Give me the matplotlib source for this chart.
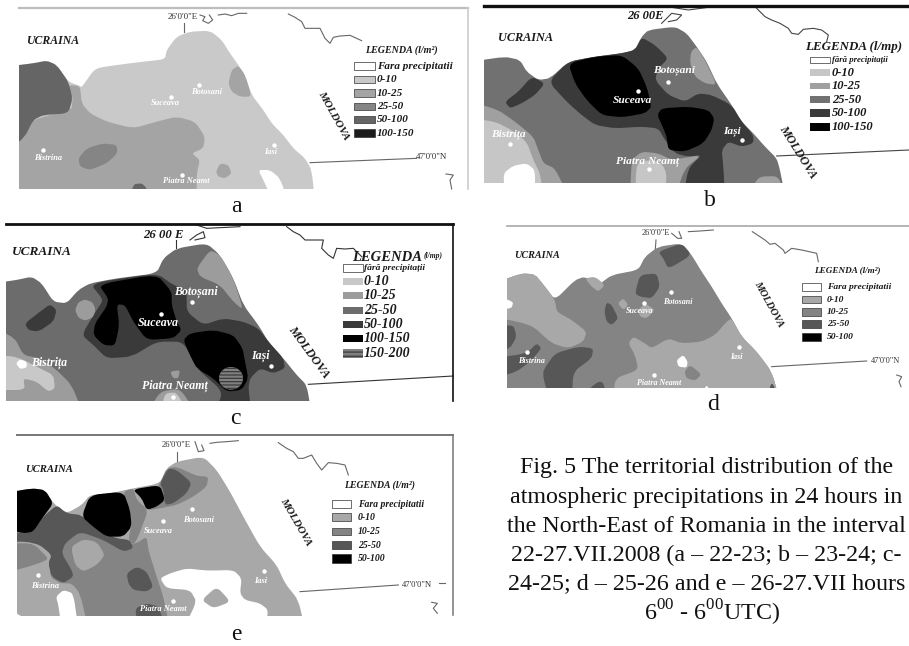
import matplotlib
matplotlib.use("Agg")
import matplotlib.pyplot as plt
from matplotlib.patches import Ellipse, PathPatch, Rectangle
from matplotlib.path import Path

plt.rcParams['font.family'] = ['Liberation Serif', 'DejaVu Serif']
plt.rcParams['mathtext.fontset'] = 'custom'
plt.rcParams['mathtext.rm'] = 'Liberation Serif'
plt.rcParams['hatch.linewidth'] = 0.9

#--------config begin--------
WHITE = "#ffffff"
a_colors = {"none": WHITE, "0-10": "#c9c9c9", "10-25": "#a4a4a4", "25-50": "#858585", "50-100": "#656565", "100-150": "#1c1c1c"}
b_colors = {"none": WHITE, "0-10": "#c6c6c6", "10-25": "#a0a0a0", "25-50": "#717171", "50-100": "#3a3a3a", "100-150": "#000000"}
c_colors = {"none": WHITE, "0-10": "#c8c8c8", "10-25": "#9c9c9c", "25-50": "#6c6c6c", "50-100": "#3a3a3a", "100-150": "#000000", "150-200": "#808080"}
d_colors = {"none": WHITE, "0-10": "#a8a8a8", "10-25": "#848484", "25-50": "#575757", "50-100": "#000000"}
#--------config end--------

legend_a = ["Fara precipitatii", "0-10", "10-25", "25-50", "50-100", "100-150"]
legend_b = ["fără precipitații", "0-10", "10-25", "25-50", "50-100", "100-150"]
legend_c = ["fără precipitații", "0-10", "10-25", "25-50", "50-100", "100-150", "150-200"]
legend_d = ["Fara precipitatii", "0-10", "10-25", "25-50", "50-100"]
legend_keys_a = ["none", "0-10", "10-25", "25-50", "50-100", "100-150"]
legend_keys_c = legend_keys_a + ["150-200"]
legend_keys_d = ["none", "0-10", "10-25", "25-50", "50-100"]

caption_lines = [
    "Fig. 5 The territorial distribution of the",
    "atmospheric precipitations in 24 hours in",
    "the North-East of Romania in the interval",
    "22-27.VII.2008 (a – 22-23; b – 23-24; c-",
    "24-25; d – 25-26 and e – 26-27.VII hours",
]
caption_last = "6$^{00}$ - 6$^{00}$UTC)"

# outlines are read off the picture, in 3x pixels of each panel crop
# panel a
a_shape = [(57,200),(100,190),(140,182),(170,195),(205,245),(240,258),(245,262),(285,205),(350,195),(430,185),(495,178),(500,150),(530,110),(570,95),(630,92),(665,120),(690,160),(715,195),(735,225),(755,285),(790,330),(815,370),(850,405),(880,445),(915,475),(935,510),(945,567),(57,567)]
a_band = [(240,258),(245,310),(270,340),(320,365),(400,385),(470,365),(530,350),(585,365),(615,410),(610,445),(575,460),(600,480),(590,520),(590,567),(57,567),(57,460),(80,400),(100,360),(150,345),(215,330),(218,290),(205,255)]
a_hole = [(775,510),(810,510),(840,535),(865,567),(820,567),(790,540)]
a_west = [(57,200),(100,190),(140,182),(170,195),(205,245),(218,295),(205,340),(130,345),(100,360),(75,410),(57,460)]
a_blob1 = [(235,475),(260,445),(310,430),(350,435),(352,460),(320,490),(270,510),(240,500)]
a_blob2 = [(685,250),(695,210),(715,197),(735,225),(755,290),(720,290),(695,275)]
a_blob3 = [(648,515),(660,490),(685,495),(695,520),(675,535),(655,530)]
a_blob4 = [(388,567),(400,552),(430,550),(465,567)]
a_regions = [("0-10", a_shape), ("10-25", a_band), ("none", a_hole), ("50-100", a_west), ("25-50", a_blob1),
             ("10-25", a_blob2), ("10-25", a_blob3), ("50-100", a_blob4)]

# panel b
b_shape = [(87,185),(150,170),(195,180),(215,215),(250,240),(285,235),(340,185),(420,170),(500,160),(540,150),(560,110),(580,90),(660,80),(695,100),(725,140),(755,185),(785,250),(830,315),(860,365),(895,400),(930,440),(965,475),(975,510),(990,548),(87,548)]
b_west1 = [(87,305),(130,330),(180,365),(235,410),(250,450),(265,490),(300,505),(340,548),(87,548)]
b_west2 = [(87,355),(120,365),(170,390),(215,425),(235,480),(255,520),(265,548),(87,548)]
b_hole = [(145,520),(175,497),(215,490),(240,510),(240,548),(150,548)]
b_core = [(280,245),(340,185),(420,170),(500,160),(540,150),(560,112),(600,135),(640,175),(610,205),(600,240),(640,285),(690,305),(730,280),(770,285),(830,315),(860,365),(895,405),(895,430),(860,440),(820,425),(800,450),(805,500),(810,548),(685,548),(700,505),(740,465),(700,470),(660,460),(630,420),(610,385),(560,380),(480,385),(420,375),(380,345),(340,310)]
b_black1 = [(340,190),(420,170),(500,165),(550,205),(575,260),(590,320),(570,340),(500,352),(440,345),(395,300),(360,250)]
b_black2 = [(607,345),(620,325),(700,320),(760,330),(778,355),(770,390),(745,430),(690,455),(640,450),(635,410),(625,385)]
b_arm = [(150,305),(190,275),(230,230),(270,250),(240,285),(200,310),(165,325)]
b_east = [(708,155),(725,140),(755,190),(785,255),(750,250),(720,230),(705,190)]
b_piatra1 = [(525,548),(530,480),(560,455),(610,460),(650,480),(740,465),(690,505),(660,548)]
b_piatra2 = [(540,548),(545,490),(580,480),(620,490),(635,520),(630,548)]
b_south = [(880,548),(910,530),(970,528),(990,548)]
b_regions = [("25-50", b_shape), ("10-25", b_west1), ("0-10", b_west2), ("none", b_hole), ("50-100", b_core),
             ("100-150", b_black1), ("100-150", b_black2), ("50-100", b_arm), ("10-25", b_east),
             ("10-25", b_piatra1), ("0-10", b_piatra2), ("10-25", b_south)]

# panel c
c_shape = [(18,205),(50,195),(95,185),(125,205),(160,260),(200,265),(235,225),(270,205),(350,190),(470,175),(490,130),(530,100),(620,85),(660,120),(700,190),(730,270),(775,330),(805,380),(850,430),(890,480),(920,510),(935,557),(18,557)]
c_core = [(245,360),(290,285),(310,255),(270,205),(470,175),(520,210),(560,225),(560,290),(610,330),(670,310),(730,320),(775,340),(805,380),(850,430),(855,460),(820,475),(780,460),(750,490),(745,520),(755,557),(640,557),(670,530),(590,460),(550,380),(470,380),(395,425),(320,430),(280,390)]
c_black1 = [(295,208),(470,178),(515,230),(515,270),(530,320),(545,345),(520,370),(440,375),(400,320),(375,270),(350,268),(358,330),(345,392),(310,390),(280,360),(285,325),(320,275),(325,250)]
c_black2 = [(550,375),(570,355),(640,345),(700,360),(728,400),(735,440),(745,490),(725,525),(680,530),(640,490),(590,460),(570,420)]
c_east = [(590,160),(630,105),(660,120),(700,190),(730,285),(700,260),(660,210),(600,185)]
c_circle = [(225,285),(235,262),(255,253),(278,262),(287,285),(278,308),(255,317),(235,308)]
c_arm = [(75,325),(120,290),(150,268),(170,285),(160,320),(115,350),(85,345)]
c_west1 = [(18,335),(45,370),(70,420),(120,430),(170,465),(215,510),(250,557),(18,557)]
c_west2 = [(18,420),(50,425),(120,460),(160,480),(165,520),(145,530),(110,500),(70,490),(75,525),(18,525)]
c_hole = [(48,445),(60,433),(80,440),(80,458),(60,462)]
c_piatra1 = [(440,557),(480,530),(540,520),(590,557)]
c_piatra2 = [(480,557),(495,535),(530,532),(565,557)]
c_spot = [(510,470),(540,465),(535,490),(520,490)]
c_regions = [("25-50", c_shape), ("50-100", c_core), ("100-150", c_black1), ("100-150", c_black2), ("10-25", c_east),
             ("10-25", c_circle), ("50-100", c_arm), ("10-25", c_west1), ("0-10", c_west2), ("none", c_hole),
             ("10-25", c_piatra1), ("0-10", c_piatra2), ("10-25", c_spot)]

# panel d
d_shape = [(156,205),(200,175),(240,178),(270,215),(300,255),(360,195),(390,185),(430,210),(470,180),(550,165),(570,125),(610,95),(680,85),(710,120),(740,170),(770,215),(800,265),(830,310),(860,365),(905,410),(950,470),(975,518),(156,518)]
d_west = [(156,205),(200,175),(240,178),(270,215),(300,255),(305,290),(350,315),(395,350),(385,380),(340,400),(290,385),(230,330),(156,305)]
d_hole1 = [(156,240),(175,260),(170,280),(156,285)]
d_sliver = [(390,190),(420,185),(450,210),(430,230),(410,215)]
d_south = [(520,385),(535,365),(570,385),(590,400),(640,370),(680,385),(740,380),(780,360),(815,320),(830,310),(860,365),(905,410),(950,470),(975,518),(475,518),(480,490),(550,465),(540,420)]
d_hole2 = [(665,435),(685,420),(698,440),(695,458),(670,455)]
d_hole3 = [(735,518),(755,505),(775,518)]
d_dark1 = [(610,110),(680,85),(710,120),(640,162),(625,130)]
d_dark2 = [(540,235),(555,180),(605,175),(615,215),(590,250),(555,245)]
d_dark3 = [(448,290),(455,262),(470,270),(490,310),(470,330),(455,320)]
d_dark4 = [(156,335),(175,330),(185,365),(165,400),(156,415)]
d_dark5 = [(156,430),(215,415),(245,385),(260,400),(225,440),(185,470),(156,490)]
d_dark6 = [(265,465),(300,415),(370,395),(415,400),(410,430),(355,470),(350,518),(285,518),(265,490)]
d_dark7 = [(360,518),(440,490),(462,518)]
d_dark8 = [(935,518),(950,497),(975,518)]
d_lite1 = [(488,265),(505,250),(520,270),(505,285)]
d_lite2 = [(550,285),(570,265),(600,285),(575,310),(555,305)]
d_mid = [(688,470),(705,450),(740,478),(720,497),(695,490)]
d_regions = [("10-25", d_shape), ("0-10", d_west), ("none", d_hole1), ("0-10", d_sliver), ("0-10", d_south),
             ("none", d_hole2), ("none", d_hole3), ("25-50", d_dark1), ("25-50", d_dark2), ("25-50", d_dark3),
             ("25-50", d_dark4), ("25-50", d_dark5), ("25-50", d_dark6), ("25-50", d_dark7), ("25-50", d_dark8),
             ("0-10", d_lite1), ("0-10", d_lite2), ("10-25", d_mid)]

# panel e
e_shape = [(51,190),(95,175),(135,180),(160,220),(200,250),(245,225),(270,195),(330,190),(400,175),(480,160),(500,115),(530,95),(610,80),(650,120),(690,185),(730,260),(780,350),(830,405),(855,460),(895,510),(915,557),(51,557)]
e_mid = [(150,380),(200,330),(240,300),(360,350),(410,340),(440,320),(445,360),(470,440),(490,500),(510,557),(265,557),(240,490),(215,460),(180,460),(150,440)]
e_west = [(51,340),(100,340),(145,385),(130,395),(85,410),(51,430)]
e_band = [(51,310),(100,305),(130,260),(170,225),(200,250),(245,255),(290,300),(350,325),(390,330),(400,355),(370,365),(310,330),(240,305),(195,340),(185,370),(215,420),(220,440),(190,460),(155,440),(145,400),(155,375),(120,345),(80,335),(51,335)]
e_top1 = [(370,185),(400,175),(410,210),(445,240),(415,320),(400,345),(385,330),(395,280),(380,240)]
e_top2 = [(480,160),(500,115),(530,110),(590,138),(625,140),(620,170),(580,200),(530,225),(480,235),(450,240),(440,235)]
e_top3 = [(480,160),(505,115),(530,120),(575,158),(560,190),(520,220),(495,225),(490,180)]
e_black1 = [(51,190),(95,175),(135,180),(160,220),(130,260),(100,305),(70,310),(51,295)]
e_black2 = [(245,260),(270,195),(370,185),(390,240),(395,290),(370,320),(320,320),(285,295)]
e_black3 = [(398,178),(480,165),(495,210),(470,230),(440,240),(425,205)]
e_lite = [(213,350),(250,328),(290,335),(315,375),(290,405),(250,425),(225,405)]
e_dark1 = [(380,430),(410,410),(440,425),(460,470),(440,485),(400,480),(385,460)]
e_dark2 = [(405,535),(440,520),(475,530),(500,557),(415,557)]
e_hole1 = [(480,445),(510,430),(560,415),(620,422),(700,420),(725,445),(720,490),(735,510),(780,520),(805,540),(795,557),(550,557),(590,515),(570,480),(500,475)]
e_island = [(605,510),(650,470),(692,515),(640,535)]
e_hole2 = [(168,500),(190,480),(220,490),(235,557),(185,557),(175,525)]
e_regions = [("0-10", e_shape), ("10-25", e_mid), ("10-25", e_west), ("25-50", e_band), ("10-25", e_top1),
             ("10-25", e_top2), ("25-50", e_top3), ("50-100", e_black1), ("50-100", e_black2), ("50-100", e_black3),
             ("0-10", e_lite), ("25-50", e_dark1), ("25-50", e_dark2), ("none", e_hole1), ("0-10", e_island),
             ("none", e_hole2)]

# rivers and grid lines
a_lines = [[(600,45),(615,50),(608,62),(625,70),(638,60),(628,45)], [(655,45),(675,42),(695,47),(715,40),(740,40)], [(865,42),(885,52),(905,65),(915,85),(935,85),(960,85),(975,115),(990,130),(1000,112),(1020,108),(1050,106),(1085,122)], [(552,70),(552,97)], [(930,488),(1250,475)], [(1338,522),(1360,525),(1350,540),(1355,567)]]
b_lines = [[(620,70),(650,40),(680,45),(665,60),(640,65)], [(650,22),(700,30),(760,22)], [(905,25),(930,50),(950,60),(975,70),(1000,85),(1010,100),(1030,103),(1045,88),(1075,85),(1100,90),(1120,105),(1115,125)], [(965,468),(1362,450)]]
c_lines = [[(570,75),(590,60),(610,50),(615,68),(585,75)], [(590,30),(620,40),(720,35)], [(860,35),(880,50),(900,60),(915,75),(945,75),(970,75),(965,100),(985,120),(1000,130),(1010,100),(1035,102),(1060,100),(1085,125)], [(527,75),(527,100)], [(925,508),(1360,483)]]
d_lines = [[(650,55),(668,70),(680,70),(672,50)], [(700,50),(735,48),(775,45)], [(892,50),(930,75),(945,88),(960,85),(985,105),(990,115),(1010,100),(1040,105),(1085,115),(1090,140)], [(603,75),(600,115)], [(950,455),(1235,438)], [(1325,480),(1340,485),(1332,500),(1338,515)]]
e_lines = [[(585,35),(595,65),(612,62),(605,45)], [(630,40),(650,37),(680,35),(715,32)], [(835,38),(860,55),(880,65),(895,85),(910,85),(935,75),(950,100),(965,120),(985,98),(1010,100),(1035,105),(1045,135)], [(530,65),(530,95)], [(900,485),(1195,465)], [(1318,460),(1335,460)], [(1295,517),(1312,520),(1300,535),(1312,550)]]

# place names: text, label x, label y, dot x, dot y
a_places = [("Botosani",620,275,598,255), ("Suceava",495,308,512,290), ("Iasi",813,455,823,435), ("Bistrina",143,473,128,450), ("Piatra Neamt",558,543,545,525)]
b_places = [("Botoșani",656,210,640,245), ("Suceava",531,302,548,273), ("Iași",830,393,860,420), ("Bistrița",160,402,165,432), ("Piatra Neamț",578,483,582,507)]
c_places = [("Botoșani",587,230,577,262), ("Suceava",474,323,484,298), ("Iași",782,423,813,452), ("Bistrița",148,445,62,445), ("Piatra Neamț",525,513,520,547)]
d_places = [("Botosani",669,260,648,232), ("Suceava",555,288,568,265), ("Iasi",844,425,853,397), ("Bistrina",230,438,216,410), ("Piatra Neamt",612,505,598,480)]
e_places = [("Botosani",597,270,575,238), ("Suceava",476,303,490,273), ("Iasi",783,452,792,422), ("Bistrina",136,468,115,435), ("Piatra Neamt",489,537,520,512)]


def rounded(points, xmin, ymax, frac=0.3):
  # push border points past the clip box so the cut edge stays straight
  pts = [(x - 40 if x <= xmin else x, y + 40 if y >= ymax else y) for x, y in points]
  verts = []
  codes = []
  n = len(pts)
  for i in range(n):
    px, py = pts[i - 1]
    cx, cy = pts[i]
    nx, ny = pts[(i + 1) % n]
    verts += [(cx + (px - cx) * frac, cy + (py - cy) * frac), (cx, cy), (cx + (nx - cx) * frac, cy + (ny - cy) * frac)]
    codes += [Path.MOVETO if i == 0 else Path.LINETO, Path.CURVE3, Path.CURVE3]
  verts.append(verts[0])
  codes.append(Path.LINETO)
  return Path(verts, codes)


def bold_it(ax, x, y, s, size, color="#1a1a1a", **kw):
  ax.text(x, y, s, fontsize=size, color=color, style="italic", weight="bold", ha="center", va="center", **kw)


def make_panel(crop, box, colors, regions, lines, places, line_color, place_size):
  x, y, w, h = crop
  ax = fig.add_axes([x / 909, 1 - (y + h) / 646, w / 909, h / 646])
  ax.set_xlim(0, w * 3)
  ax.set_ylim(h * 3, 0)
  ax.axis("off")
  ax.patch.set_alpha(0)
  clip = Rectangle((box[0], 0), 2000, box[1], transform=ax.transData)
  for key, pts in regions:
    patch = PathPatch(rounded(pts, box[0], box[1]), facecolor=colors[key], edgecolor="none", zorder=2)
    ax.add_patch(patch)
    patch.set_clip_path(clip)
  for line in lines:
    ax.plot([p[0] for p in line], [p[1] for p in line], color=line_color, lw=0.8, zorder=1, clip_on=False, solid_joinstyle="round")
  for name, lx, ly, dx, dy in places:
    ax.plot(dx, dy, "o", color="white", ms=3.2, mew=0, zorder=3)
    bold_it(ax, lx, ly, name, place_size, color="white", zorder=4)
  return ax


def make_legend(ax, labels, keys, colors, ys, x0, x1, xt, size, edge="#333333"):
  for label, key, (top, bottom) in zip(labels, keys, ys):
    ax.add_patch(Rectangle((x0, top), x1 - x0, bottom - top, facecolor=colors[key], edgecolor=edge, lw=0.5, zorder=3))
    ax.text(xt, (top + bottom) / 2, label, fontsize=size, color="#1a1a1a", style="italic", weight="bold", ha="left", va="center", zorder=4)


fig = plt.figure(figsize=(9.09, 6.46), dpi=100)

# a
ax = make_panel((0, 0, 475, 215), (57, 567), a_colors, a_regions, a_lines, a_places, "#666666", 6)
ax.plot([57, 1405], [24, 24], color="#bdbdbd", lw=1.6, clip_on=False)
ax.plot([1405, 1405], [24, 567], color="#cccccc", lw=1.2, clip_on=False)
bold_it(ax, 157, 122, "UCRAINA", 8.5)
ax.text(547, 52, "26'0'0\"E", fontsize=6.5, color="#333333", ha="center", va="center")
ax.text(1295, 470, "47'0'0\"N", fontsize=6.5, color="#333333", ha="center", va="center")
bold_it(ax, 1000, 348, "MOLDOVA", 8, rotation=-61, rotation_mode="anchor")
bold_it(ax, 1205, 150, "LEGENDA (l/m²)", 7.2)
make_legend(ax, legend_a, legend_keys_a, a_colors, [(187,210),(227,250),(268,290),(308,330),(348,370),(388,410)], 1062, 1125, 1130, 8)

# b
ax = make_panel((455, 0, 454, 215), (87, 548), b_colors, b_regions, b_lines, b_places, "#444444", 8.2)
ax.plot([87, 1362], [18, 18], color="#111111", lw=2.4, clip_on=False)
bold_it(ax, 211, 115, "UCRAINA", 8.8)
bold_it(ax, 570, 48, "26 00E", 9)
bold_it(ax, 1028, 455, "MOLDOVA", 8.8, rotation=-58, rotation_mode="anchor")
bold_it(ax, 1195, 140, "LEGENDA (l/mp)", 9.4)
make_legend(ax, legend_b[:1], legend_keys_a[:1], b_colors, [(170,190)], 1065, 1125, 1130, 6.3)
make_legend(ax, legend_b[1:], legend_keys_a[1:], b_colors, [(207,228),(248,268),(288,310),(328,350),(370,392)], 1065, 1125, 1130, 9, edge="none")

# c
ax = make_panel((0, 215, 455, 215), (18, 557), c_colors, c_regions, c_lines, c_places, "#333333", 8.6)
ax.add_patch(Ellipse((693, 490), 72, 68, facecolor=c_colors["150-200"], edgecolor="#3a3a3a", hatch="-----", linewidth=0, zorder=3))
ax.plot([18, 1360], [28, 28], color="#111111", lw=2, clip_on=False)
ax.plot([1360, 1360], [28, 557], color="#111111", lw=1.2, clip_on=False)
bold_it(ax, 127, 110, "UCRAINA", 9.5)
bold_it(ax, 491, 60, "26 00 E", 9.2)
bold_it(ax, 925, 412, "MOLDOVA", 9, rotation=-54, rotation_mode="anchor")
bold_it(ax, 1162, 128, "LEGENDA", 10.5)
bold_it(ax, 1298, 124, "(l/mp)", 5.5)
make_legend(ax, legend_c[:1], legend_keys_c[:1], c_colors, [(147,172)], 1028, 1088, 1092, 6.8)
make_legend(ax, legend_c[1:-1], legend_keys_c[1:-1], c_colors, [(190,210),(232,252),(275,297),(318,338),(360,380)], 1028, 1088, 1092, 10, edge="none")
ax.add_patch(Rectangle((1028, 403), 60, 25, facecolor=c_colors["150-200"], edgecolor="#3a3a3a", hatch="----", linewidth=0, zorder=3))
ax.text(1092, 415, legend_c[-1], fontsize=10, color="#1a1a1a", style="italic", weight="bold", ha="left", va="center", zorder=4)

# d
ax = make_panel((455, 215, 454, 215), (156, 518), d_colors, d_regions, d_lines, d_places, "#666666", 5.8)
ax.plot([156, 1362], [32, 32], color="#a8a8a8", lw=1.2, clip_on=False)
bold_it(ax, 245, 120, "UCRAINA", 7.3)
ax.text(602, 55, "26'0'0\"E", fontsize=6, color="#333333", ha="center", va="center")
ax.text(1290, 437, "47'0'0\"N", fontsize=6, color="#333333", ha="center", va="center")
bold_it(ax, 940, 267, "MOLDOVA", 7.5, rotation=-61, rotation_mode="anchor")
bold_it(ax, 1177, 167, "LEGENDA (l/m²)", 6.6)
make_legend(ax, legend_d, legend_keys_d, d_colors, [(205,228),(243,265),(280,303),(316,340),(353,378)], 1040, 1098, 1115, 6.8)

# e
ax = make_panel((0, 430, 455, 216), (51, 557), d_colors, e_regions, e_lines, e_places, "#666666", 6)
ax.plot([51, 1358], [15, 15], color="#777777", lw=1.4, clip_on=False)
ax.plot([1358, 1358], [15, 555], color="#777777", lw=1.1, clip_on=False)
bold_it(ax, 147, 117, "UCRAINA", 7.7)
ax.text(528, 45, "26'0'0\"E", fontsize=6.2, color="#333333", ha="center", va="center")
ax.text(1252, 465, "47'0'0\"N", fontsize=6.2, color="#333333", ha="center", va="center")
bold_it(ax, 888, 275, "MOLDOVA", 7.8, rotation=-60, rotation_mode="anchor")
bold_it(ax, 1139, 167, "LEGENDA (l/m²)", 7)
make_legend(ax, legend_d, legend_keys_d, d_colors, [(210,235),(250,273),(293,315),(333,357),(373,398)], 995, 1052, 1073, 7)

# panel letters and caption, full figure axes in picture pixels
top = fig.add_axes([0, 0, 1, 1])
top.set_xlim(0, 909)
top.set_ylim(646, 0)
top.axis("off")
top.patch.set_alpha(0)
for letter, lx, ly in [("a", 236, 207), ("b", 710, 200), ("c", 235, 419), ("d", 713, 405), ("e", 236, 634)]:
  top.text(lx, ly, letter, fontsize=17, color="#111111", ha="center", va="center")
for i, line in enumerate(caption_lines):
  top.text(706.5, 468 + i * 29.0, line, fontsize=17.3, color="#111111", ha="center", va="center")
top.text(712, 613, caption_last, fontsize=17.3, color="#111111", ha="center", va="center")

plt.savefig("out.png", dpi=100)
